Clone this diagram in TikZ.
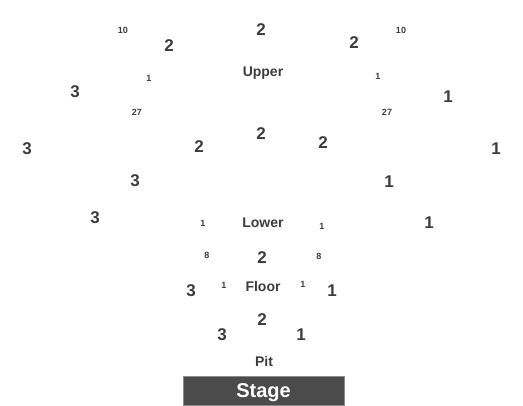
\documentclass[tikz,border=0pt]{standalone}
\usepackage{fontspec}
\setmainfont{Liberation Sans}
\definecolor{txt}{HTML}{3C3C3C}
\definecolor{stagefill}{HTML}{4B4B4B}
\definecolor{stageedge}{HTML}{8A8A8A}
\begin{document}
\begin{tikzpicture}[x=1pt,y=-1pt,
  big/.style={inner sep=0pt,text=txt,font=\fontsize{17}{17}\selectfont\bfseries},
  small/.style={inner sep=0pt,text=txt,font=\fontsize{9}{9}\selectfont\bfseries},
  lbl/.style={inner sep=0pt,text=txt,text height=10pt,text depth=0pt,font=\fontsize{14}{14}\selectfont\bfseries},
  stagebox/.style={draw=stageedge,line width=0.8pt,fill=stagefill,text=white,
    minimum width=161pt,minimum height=29pt,inner sep=0pt,
    text height=14.3pt,text depth=0pt,
    font=\fontsize{20}{20}\selectfont\bfseries}]
\useasboundingbox (0,0) rectangle (523,406);
% upper section
\node[small] (u10l) at (123,30) {10};
\node[big] (u2a) at (169,46) {2};
\node[big] (u2b) at (261,30) {2};
\node[big] (u2c) at (354,43) {2};
\node[small] (u10r) at (401,30) {10};
\node[lbl] (upper) at (263,71.5) {Upper};
\node[small] (u1l) at (149,78) {1};
\node[small] (u1r) at (378,76) {1};
\node[big] (u3a) at (75,92) {3};
\node[big] (u1a) at (448,97) {1};
\node[small] (u27l) at (137,112) {27};
\node[small] (u27r) at (387,112) {27};
\node[big] (u3b) at (27,149) {3};
\node[big] (u2d) at (199,147) {2};
\node[big] (u2e) at (261,134) {2};
\node[big] (u2f) at (323,143) {2};
\node[big] (u1b) at (496,149) {1};
\node[big] (u3c) at (135,181) {3};
\node[big] (u1c) at (389,182) {1};
% lower section
\node[big] (l3) at (95,218) {3};
\node[small] (l1l) at (203,223) {1};
\node[lbl] (lower) at (263,223) {Lower};
\node[small] (l1r) at (322,226) {1};
\node[big] (l1) at (429,223) {1};
\node[small] (l8l) at (207,255) {8};
\node[big] (l2) at (262,258) {2};
\node[small] (l8r) at (319,256) {8};
% floor
\node[big] (f3) at (191,291) {3};
\node[small] (f1l) at (224,285) {1};
\node[lbl] (floor) at (263,287) {Floor};
\node[small] (f1r) at (303,284) {1};
\node[big] (f1) at (332,291) {1};
\node[big] (f2) at (262,320) {2};
% pit
\node[big] (p3) at (222,335) {3};
\node[big] (p1) at (301,335) {1};
\node[lbl] (pit) at (264,362) {Pit};
% stage
\node[stagebox] (stage) at (263.5,390.5) {Stage};
\end{tikzpicture}
\end{document}
